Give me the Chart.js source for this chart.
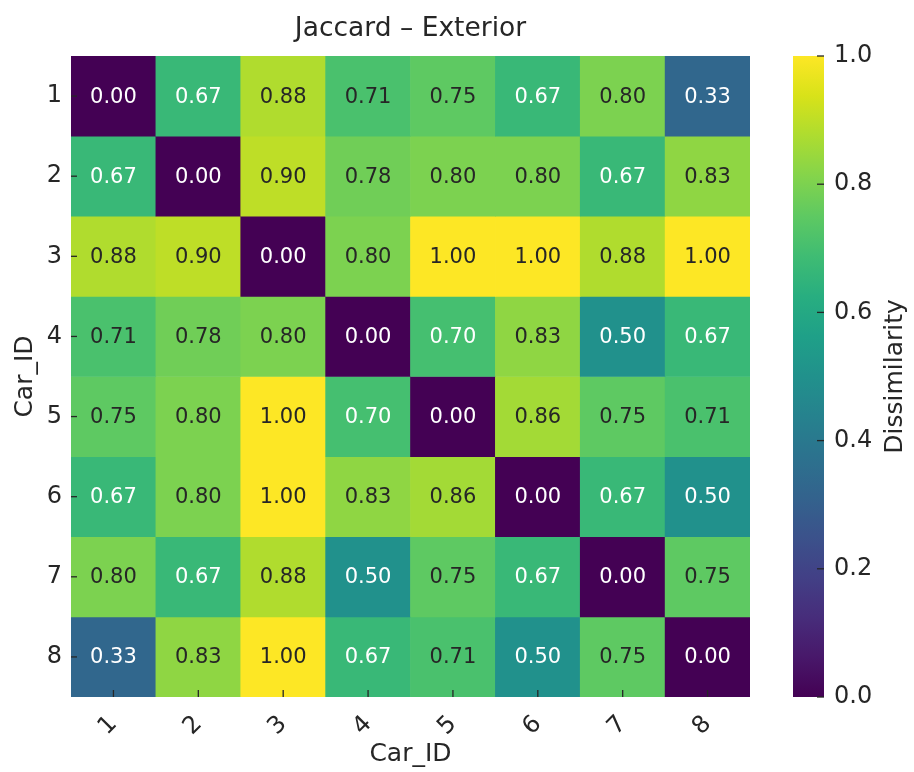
<!DOCTYPE html>
<html>
<head>
<meta charset="utf-8">
<title>Jaccard – Exterior</title>
<script src="https://cdn.jsdelivr.net/npm/chart.js@4.4.1/dist/chart.umd.min.js"></script>
<style>
  html, body { margin: 0; padding: 0; background: #fff; }
  #wrap { position: relative; width: 914px; height: 772px; }
  #wrap canvas { position: absolute; left: 0; top: 0; }
</style>
</head>
<body>
<div id="wrap">
  <canvas id="heat" width="914" height="772"></canvas>
  <canvas id="cbar" width="914" height="772"></canvas>
</div>
<script>
// car ids on both axes
const carIds = ['1', '2', '3', '4', '5', '6', '7', '8'];

// Jaccard dissimilarity, one array per row (Car_ID 1..8)
const row1 = [0.00, 0.67, 0.88, 0.71, 0.75, 0.67, 0.80, 0.33];
const row2 = [0.67, 0.00, 0.90, 0.78, 0.80, 0.80, 0.67, 0.83];
const row3 = [0.88, 0.90, 0.00, 0.80, 1.00, 1.00, 0.88, 1.00];
const row4 = [0.71, 0.78, 0.80, 0.00, 0.70, 0.83, 0.50, 0.67];
const row5 = [0.75, 0.80, 1.00, 0.70, 0.00, 0.86, 0.75, 0.71];
const row6 = [0.67, 0.80, 1.00, 0.83, 0.86, 0.00, 0.67, 0.50];
const row7 = [0.80, 0.67, 0.88, 0.50, 0.75, 0.67, 0.00, 0.75];
const row8 = [0.33, 0.83, 1.00, 0.67, 0.71, 0.50, 0.75, 0.00];
const matrix = [row1, row2, row3, row4, row5, row6, row7, row8];

const colorbarTicks = [0.0, 0.2, 0.4, 0.6, 0.8, 1.0];

const FONT = "'DejaVu Sans', 'Liberation Sans', sans-serif";
const TEXT = '#262626';

// viridis colormap stops
const viridisStops = ['#440154', '#48186a', '#472d7b', '#424086', '#3b528b', '#33638d',
  '#2c728e', '#26828e', '#21918c', '#1fa088', '#28ae80', '#3fbc73', '#5ec962',
  '#84d44b', '#addc30', '#d8e219', '#fde725'];

function hexRgb(h) {
  return [parseInt(h.slice(1, 3), 16), parseInt(h.slice(3, 5), 16), parseInt(h.slice(5, 7), 16)];
}

function viridis(t) {
  t = Math.max(0, Math.min(1, t));
  const n = viridisStops.length - 1;
  const i = Math.min(Math.floor(t * n), n - 1);
  const f = t * n - i;
  const a = hexRgb(viridisStops[i]), b = hexRgb(viridisStops[i + 1]);
  const c = a.map((v, k) => Math.round(v + (b[k] - v) * f));
  return `rgb(${c[0]},${c[1]},${c[2]})`;
}

// small inward tick marks like the original
function drawTicks(ctx, scale, side, len) {
  ctx.save();
  ctx.strokeStyle = TEXT;
  ctx.lineWidth = 1.3;
  scale.ticks.forEach((t, i) => {
    const p = scale.getPixelForTick(i);
    ctx.beginPath();
    if (side === 'bottom') { ctx.moveTo(p, scale.top); ctx.lineTo(p, scale.top - len); }
    if (side === 'left') { ctx.moveTo(scale.right, p); ctx.lineTo(scale.right + len, p); }
    if (side === 'right') { ctx.moveTo(scale.left, p); ctx.lineTo(scale.left - len, p); }
    ctx.stroke();
  });
  ctx.restore();
}

const cellLabels = {
  id: 'cellLabels',
  afterDatasetsDraw(chart) {
    const ctx = chart.ctx;
    ctx.save();
    ctx.font = `21px ${FONT}`;
    ctx.textAlign = 'center';
    ctx.textBaseline = 'middle';
    chart.data.datasets.forEach((ds, r) => {
      chart.getDatasetMeta(r).data.forEach((el, c) => {
        const v = matrix[r][c];
        ctx.fillStyle = v > 0.705 ? TEXT : '#ffffff';
        ctx.fillText(v.toFixed(2), el.x, (el.y + el.base) / 2 + 1);
      });
    });
    drawTicks(ctx, chart.scales.x, 'bottom', 7);
    drawTicks(ctx, chart.scales.y, 'left', 6);
    // title over the heatmap
    const a = chart.chartArea;
    ctx.fillStyle = TEXT;
    ctx.font = `26.5px ${FONT}`;
    ctx.textBaseline = 'alphabetic';
    ctx.fillText('Jaccard – Exterior', (a.left + a.right) / 2, 36);
    ctx.restore();
  }
};

new Chart(document.getElementById('heat'), {
  type: 'bar',
  data: {
    labels: carIds,
    datasets: matrix.map((row, r) => ({
      label: carIds[r],
      data: row.map(() => [r + 0.5, r + 1.5]),
      backgroundColor: row.map(v => viridis(v)),
      borderWidth: 0,
      barPercentage: 1,
      categoryPercentage: 1,
      grouped: false
    }))
  },
  options: {
    responsive: false,
    animation: false,
    devicePixelRatio: 1,
    layout: { padding: { left: 0, right: 164, top: 56, bottom: 0 } },
    plugins: { legend: { display: false }, tooltip: { enabled: false } },
    scales: {
      x: {
        grid: { display: false, drawTicks: false },
        border: { display: false },
        ticks: { color: TEXT, font: { family: FONT, size: 24 }, minRotation: 45, maxRotation: 45, padding: 13 },
        title: { display: true, text: 'Car_ID', color: TEXT, font: { family: FONT, size: 25 }, padding: { top: 0, bottom: 3 } },
        afterFit(s) { s.height = 75; }
      },
      y: {
        min: 0.5,
        max: 8.5,
        reverse: true,
        grid: { display: false, drawTicks: false },
        border: { display: false },
        afterBuildTicks(s) { s.ticks = carIds.map((_, i) => ({ value: i + 1 })); },
        ticks: {
          color: TEXT,
          font: { family: FONT, size: 24 },
          padding: 9,
          autoSkip: false,
          callback: v => carIds[v - 1]
        },
        title: { display: true, text: 'Car_ID', color: TEXT, font: { family: FONT, size: 25 }, padding: { top: 10, bottom: 0 } },
        afterFit(s) { s.width = 71; }
      }
    }
  },
  plugins: [cellLabels]
});

const cbarExtras = {
  id: 'cbarExtras',
  afterDatasetsDraw(chart) {
    const ctx = chart.ctx;
    drawTicks(ctx, chart.scales.y, 'right', 7);
    const a = chart.chartArea;
    ctx.save();
    ctx.fillStyle = TEXT;
    ctx.font = `25px ${FONT}`;
    ctx.textAlign = 'center';
    ctx.textBaseline = 'middle';
    ctx.translate(895, (a.top + a.bottom) / 2);
    ctx.rotate(-Math.PI / 2);
    ctx.fillText('Dissimilarity', 0, 0);
    ctx.restore();
  }
};

new Chart(document.getElementById('cbar'), {
  type: 'bar',
  data: {
    labels: [''],
    datasets: [{
      data: [[colorbarTicks[0], colorbarTicks[colorbarTicks.length - 1]]],
      backgroundColor(c) {
        const a = c.chart.chartArea;
        if (!a) return viridis(0.5);
        const g = c.chart.ctx.createLinearGradient(0, a.bottom, 0, a.top);
        viridisStops.forEach((col, i) => g.addColorStop(i / (viridisStops.length - 1), col));
        return g;
      },
      borderWidth: 0,
      barPercentage: 1,
      categoryPercentage: 1
    }]
  },
  options: {
    responsive: false,
    animation: false,
    devicePixelRatio: 1,
    layout: { padding: { left: 793, right: 0, top: 56, bottom: 75 } },
    plugins: { legend: { display: false }, tooltip: { enabled: false } },
    scales: {
      x: { display: false },
      y: {
        position: 'right',
        min: 0,
        max: 1,
        grid: { display: false, drawTicks: false },
        border: { display: false },
        afterBuildTicks(s) { s.ticks = colorbarTicks.map(v => ({ value: v })); },
        ticks: { color: TEXT, font: { family: FONT, size: 24 }, padding: 10, callback: v => v.toFixed(1) },
        afterFit(s) { s.width = 90; }
      }
    }
  },
  plugins: [cbarExtras]
});
</script>
</body>
</html>
